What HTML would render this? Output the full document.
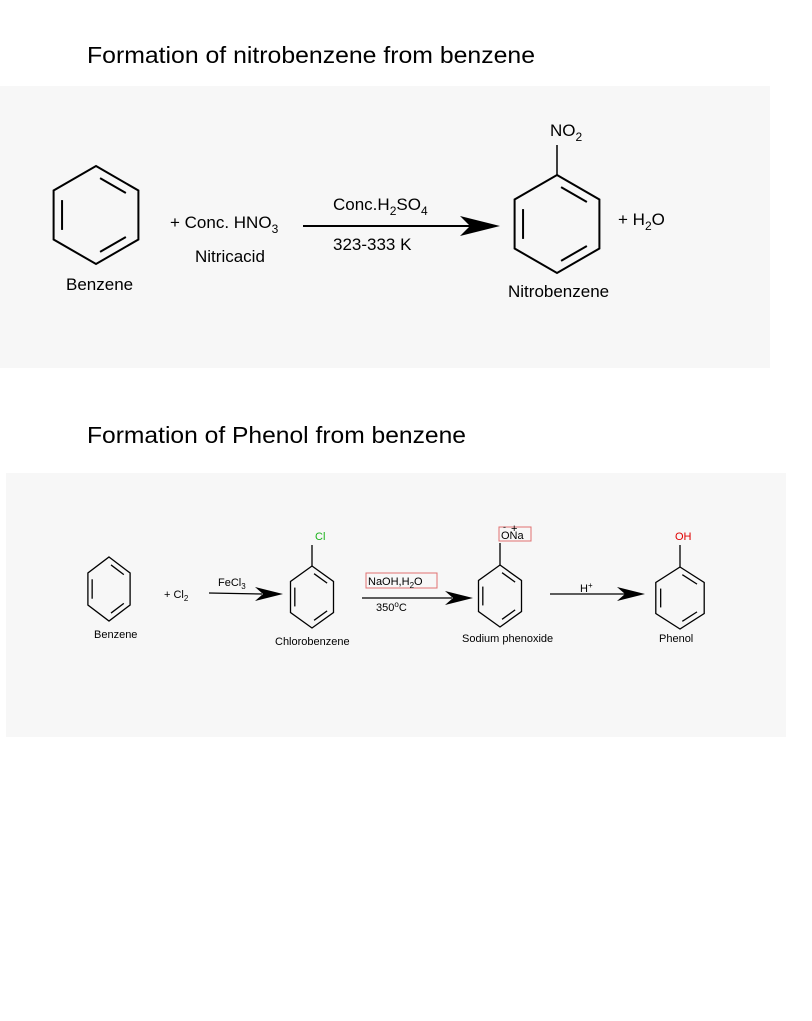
<!DOCTYPE html>
<html><head><meta charset="utf-8"><style>
html,body{margin:0;padding:0;background:#fff;}
svg{display:block;}
text{font-family:"Liberation Sans",sans-serif;}
</style></head><body>
<svg id="s" width="812" height="1021" viewBox="0 0 812 1021" xmlns="http://www.w3.org/2000/svg">
<rect x="0" y="86" width="770" height="282" fill="#f7f7f7"/>
<rect x="6" y="473" width="780" height="264" fill="#f7f7f7"/>
<text x="87" y="63" font-size="23" textLength="448" lengthAdjust="spacingAndGlyphs" fill="#000">Formation of nitrobenzene from benzene</text>
<text x="87" y="443" font-size="23" textLength="379" lengthAdjust="spacingAndGlyphs" fill="#000">Formation of Phenol from benzene</text>
<g id="rings" fill="none" stroke="#000"></g>
<g stroke="#000" stroke-width="2">
<line x1="303" y1="226" x2="475" y2="226"/>
<line x1="557" y1="175" x2="557" y2="145" stroke-width="1.5"/>
</g>
<polygon points="460,216 500,226 460,236 470,226" fill="#000"/>
<text x="170" y="228" font-size="17">+ Conc. HNO<tspan font-size="12" dy="5">3</tspan></text>
<text x="195" y="262" font-size="17">Nitricacid</text>
<text x="333" y="210" font-size="17">Conc.H<tspan font-size="12" dy="5">2</tspan><tspan dy="-5">SO</tspan><tspan font-size="12" dy="5">4</tspan></text>
<text x="333" y="250" font-size="17">323-333 K</text>
<text x="618" y="225" font-size="17">+ H<tspan font-size="12" dy="5">2</tspan><tspan dy="-5">O</tspan></text>
<text x="66" y="290" font-size="17">Benzene</text>
<text x="508" y="297" font-size="17">Nitrobenzene</text>
<text x="550" y="136" font-size="17">NO<tspan font-size="12" dy="5">2</tspan></text>

<g stroke="#000" stroke-width="1.3">
<line x1="209" y1="593" x2="262" y2="594"/>
<line x1="362" y1="598" x2="452" y2="598"/>
<line x1="550" y1="594" x2="625" y2="594"/>
<line x1="312" y1="566" x2="312" y2="545"/>
<line x1="500" y1="565" x2="500" y2="543"/>
<line x1="680" y1="567" x2="680" y2="545"/>
</g>
<polygon points="255,587 283,594 255,601 263,594" fill="#000"/>
<polygon points="445,591 473,598 445,605 453,598" fill="#000"/>
<polygon points="617,587 645,594 617,601 625,594" fill="#000"/>
<text x="164" y="598" font-size="11">+ Cl<tspan font-size="8" dy="3">2</tspan></text>
<text x="218" y="586" font-size="11">FeCl<tspan font-size="8" dy="3">3</tspan></text>
<rect x="366" y="573" width="71" height="15" fill="none" stroke="#e07070" stroke-width="1"/>
<text x="368" y="585" font-size="11">NaOH,H<tspan font-size="8" dy="3">2</tspan><tspan dy="-3">O</tspan></text>
<text x="376" y="611" font-size="11">350<tspan font-size="8" dy="-4">o</tspan><tspan dy="4">C</tspan></text>
<text x="580" y="592" font-size="11">H<tspan font-size="8" dy="-4">+</tspan></text>
<text x="315" y="540" font-size="11" fill="#1db31d">Cl</text>
<rect x="499" y="527" width="32" height="14" fill="none" stroke="#e07070" stroke-width="1"/>
<text x="501" y="539" font-size="11">ONa</text>
<text x="503" y="530" font-size="9">-</text>
<text x="511" y="532" font-size="11">+</text>
<text x="675" y="540" font-size="11" fill="#e00000">OH</text>
<text x="94" y="638" font-size="11">Benzene</text>
<text x="275" y="645" font-size="11">Chlorobenzene</text>
<text x="462" y="642" font-size="11">Sodium phenoxide</text>
<text x="659" y="642" font-size="11">Phenol</text>
</svg>
<script>
var g=document.getElementById('rings');
function ring(cx,cy,r,w,sx){
 sx=sx||1;
 var p=[];for(var i=0;i<6;i++){var a=(-90+60*i)*Math.PI/180;p.push([cx+sx*r*Math.cos(a),cy+r*Math.sin(a)]);}
 var s='<polygon stroke-width="'+w+'" points="'+p.map(function(q){return q[0].toFixed(1)+','+q[1].toFixed(1)}).join(' ')+'"/>';
 [[0,1],[2,3],[4,5]].forEach(function(e){
  var k=0.8,A=p[e[0]],B=p[e[1]];
  var a=[cx+(A[0]-cx)*k,cy+(A[1]-cy)*k],b=[cx+(B[0]-cx)*k,cy+(B[1]-cy)*k];
  var t=0.12;var a2=[a[0]+(b[0]-a[0])*t,a[1]+(b[1]-a[1])*t],b2=[b[0]+(a[0]-b[0])*t,b[1]+(a[1]-b[1])*t];
  s+='<line stroke-width="'+w+'" x1="'+a2[0]+'" y1="'+a2[1]+'" x2="'+b2[0]+'" y2="'+b2[1]+'"/>';
 });
 g.innerHTML+=s;
}
ring(96,215,49,2);ring(557,224,49,2);
ring(109,589,32,1.3,0.76);ring(312,597,31,1.3,0.8);ring(500,596,31,1.3,0.8);ring(680,598,31,1.3,0.9);
</script>
</body></html>
